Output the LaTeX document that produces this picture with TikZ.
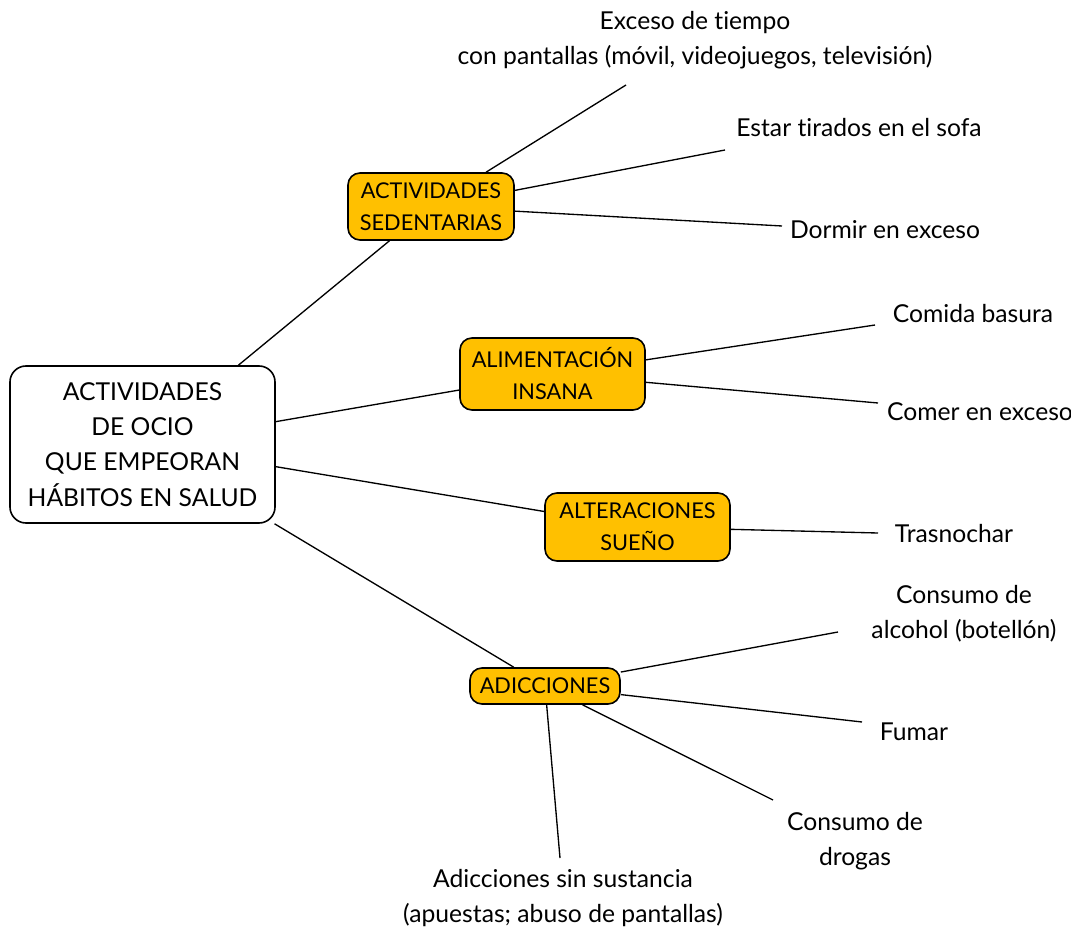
\documentclass[tikz,border=0pt]{standalone}
\usepackage{fontspec}
\setmainfont{Lato}[Ligatures=NoCommon, Contextuals=NoAlternate]
\definecolor{orangebox}{HTML}{FFC000}
\begin{document}
\begin{tikzpicture}[x=0.75pt,y=-0.75pt,
  every node/.style={font=\fontsize{18.5pt}{26.5pt}\selectfont, align=center, inner sep=0pt},
  mainbox/.style={draw, line width=1.2pt, rounded corners=12pt, fill=white},
  subbox/.style={draw, line width=1.2pt, rounded corners=9pt, fill=orangebox,
    font=\fontsize{16.3pt}{24pt}\selectfont},
  leaf/.style={},
  conn/.style={line width=1pt}]
\useasboundingbox (0,0) rectangle (1071,927);
% main nodes
\node[mainbox, minimum width=265*0.75pt, minimum height=157*0.75pt] (c) at (142.5,444.5)
  {ACTIVIDADES\\DE OCIO\\QUE EMPEORAN\\HÁBITOS EN SALUD};
\node[subbox, minimum width=166*0.75pt, minimum height=67*0.75pt] (sed) at (431,206.5)
  {ACTIVIDADES\\SEDENTARIAS};
\node[subbox, minimum width=185*0.75pt, minimum height=72*0.75pt] (ali) at (552.5,374)
  {ALIMENTACIÓN\\INSANA};
\node[subbox, minimum width=185*0.75pt, minimum height=68*0.75pt] (alt) at (637.5,527)
  {ALTERACIONES\\SUEÑO};
\node[subbox, minimum width=150*0.75pt, minimum height=36*0.75pt] (adi) at (545,686)
  {ADICCIONES};
% leaves
\node[leaf] (l1) at (695,40) {Exceso de tiempo\\con pantallas (móvil, videojuegos, televisión)};
\node[leaf] (l2) at (859,128) {Estar tirados en el sofa};
\node[leaf] (l3) at (885,230) {Dormir en exceso};
\node[leaf] (l4) at (973,314) {Comida basura};
\node[leaf] (l5) at (980,412) {Comer en exceso};
\node[leaf] (l6) at (954,534) {Trasnochar};
\node[leaf] (l7) at (964,614) {Consumo de\\alcohol (botellón)};
\node[leaf] (l8) at (914,732) {Fumar};
\node[leaf] (l9) at (855,841) {Consumo de\\drogas};
\node[leaf] (l10) at (563,898) {Adicciones sin sustancia\\(apuestas; abuso de pantallas)};
% free ends
\coordinate (e1) at (626,85);
\coordinate (e2) at (725,150);
\coordinate (e3) at (782,226);
\coordinate (e4) at (875,325);
\coordinate (e5) at (878,403);
\coordinate (e6) at (878,533);
\coordinate (e7) at (838,632);
\coordinate (e8) at (862,722);
\coordinate (e9) at (773,800);
\coordinate (e10) at (560,858);
% connectors
\draw[conn] (c) -- (sed);
\draw[conn] (c) -- (ali);
\draw[conn] (c) -- (alt);
\draw[conn] (c) -- (adi);
\draw[conn] (sed) -- (e1);
\draw[conn] (sed) -- (e2);
\draw[conn] (sed) -- (e3);
\draw[conn] (ali) -- (e4);
\draw[conn] (ali) -- (e5);
\draw[conn] (alt) -- (e6);
\draw[conn] (adi) -- (e7);
\draw[conn] (adi) -- (e8);
\draw[conn] (adi) -- (e9);
\draw[conn] (adi) -- (e10);
\end{tikzpicture}
\end{document}
